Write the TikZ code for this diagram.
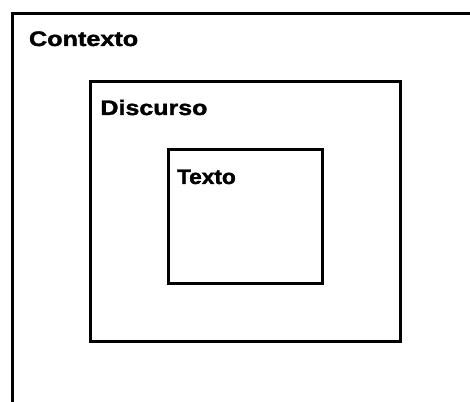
\documentclass[tikz,border=0pt]{standalone}
\usepackage{fontspec}
\setmainfont{Liberation Sans}
\newfontfamily\heavyfont{Liberation Sans Bold}[FakeBold=1.6]
\begin{document}
\begin{tikzpicture}[x=1pt,y=1pt,
  frame/.style={line width=3pt, draw=black, line join=miter},
  box/.style={frame, rectangle, inner sep=0pt, outer sep=0pt},
  lbl/.style={anchor=base west, inner sep=0pt, outer sep=0pt, font=\fontsize{21}{25}\heavyfont}
]
\useasboundingbox (0,0) rectangle (470,401);
% outer context frame (top and left edges only)
\coordinate (ctxbottom) at (12,-3);
\coordinate (ctxcorner) at (12,387.5);
\coordinate (ctxright) at (473,387.5);
\draw[frame] (ctxbottom) -- (ctxcorner) -- (ctxright);
\node[lbl, xscale=1.2] (contexto) at (29,355) {Contexto};
% discourse box
\node[box, minimum width=310.5pt, minimum height=260pt] (discurso) at (245.25,189.4) {};
\node[lbl, xscale=1.19] (discursolbl) at (100.5,286) {Discurso};
% text box
\node[box, minimum width=154.5pt, minimum height=134pt] (texto) at (245.25,184) {};
\node[lbl, xscale=1.08] (textolbl) at (177,217) {Texto};
\end{tikzpicture}
\end{document}
